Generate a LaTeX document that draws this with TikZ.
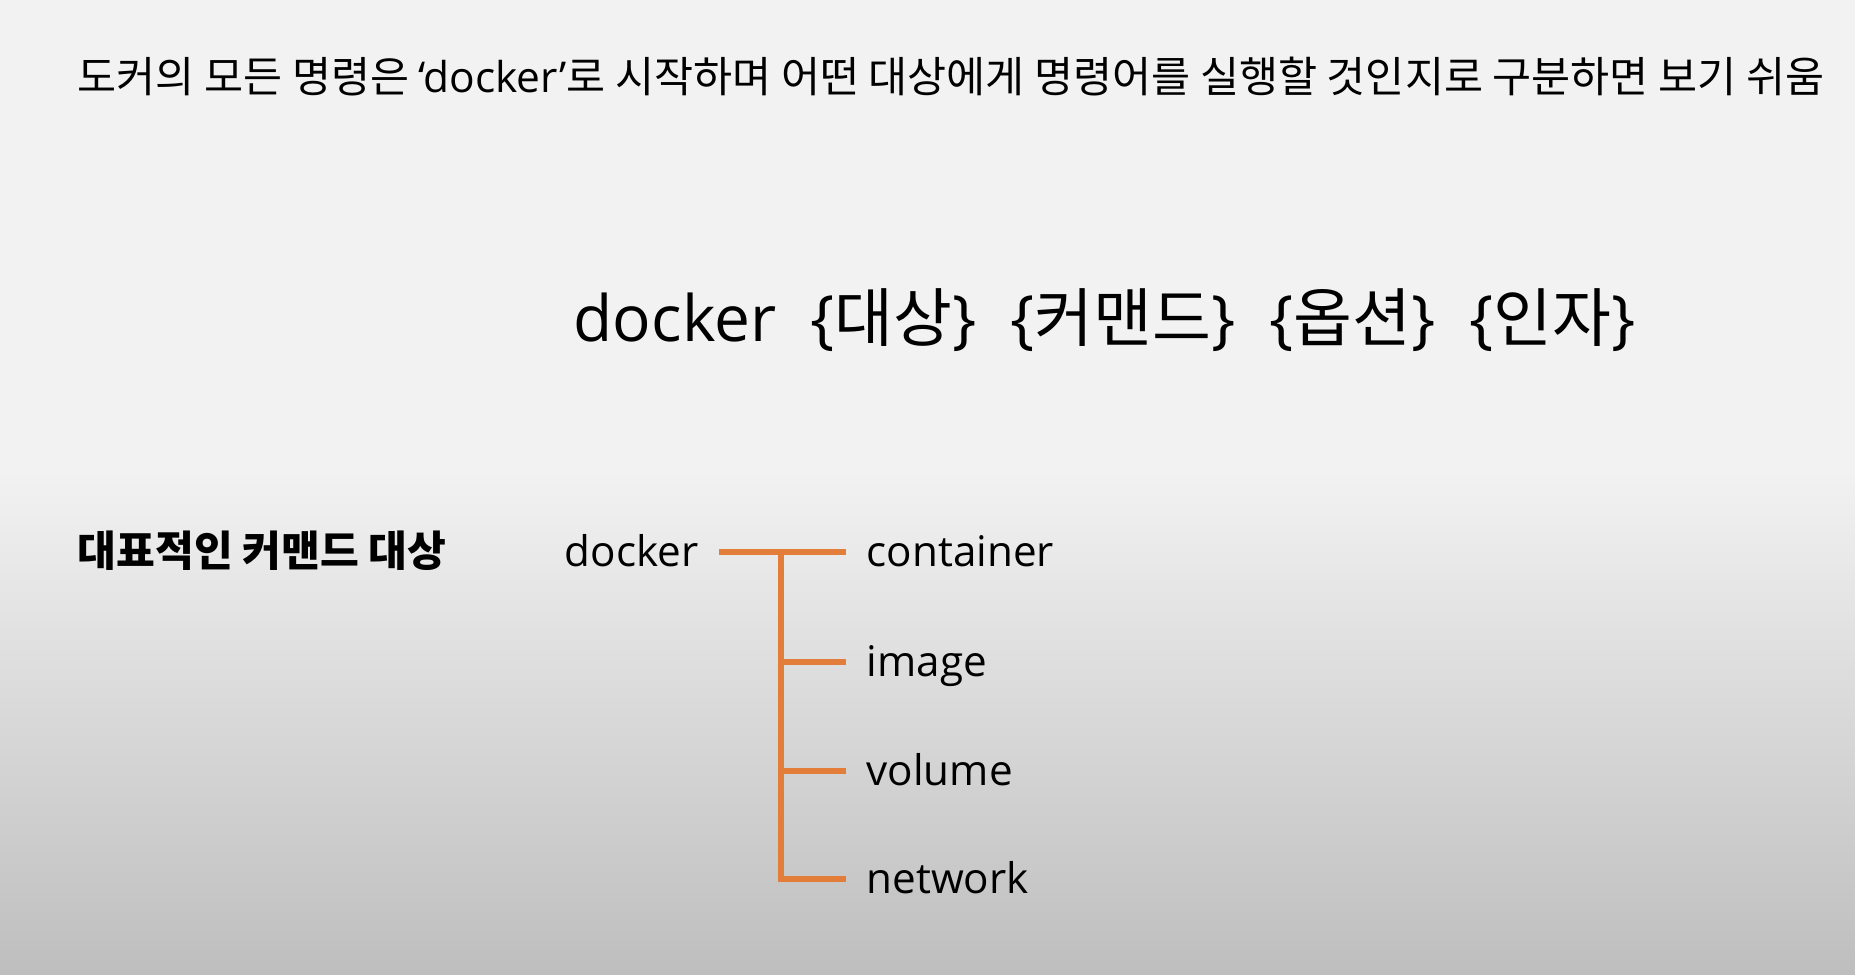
\documentclass[tikz,border=0pt]{standalone}
\usepackage{fontspec}
\setmainfont{Open Sans}
\newfontfamily\kr{Noto Sans CJK KR}
\definecolor{treeorange}{RGB}{226,126,58}
\definecolor{slidetop}{RGB}{242,242,242}
\definecolor{slidebottom}{RGB}{190,190,190}

\begin{document}
\begin{tikzpicture}[x=0.1mm,y=-0.1mm,
	item/.style={anchor=west, inner sep=0pt, font=\fontsize{12pt}{14pt}\selectfont, text height=3.2mm, text depth=0.4mm},
	tree/.style={draw=treeorange, line width=1.7pt}]

	% slide background
	\fill[slidetop] (0,0) rectangle (1855,974);
	\shade[top color=slidetop, bottom color=slidebottom] (0,470) rectangle (1855,974);
	\useasboundingbox (0,0) rectangle (1855,974);

	\node (title) [anchor=west, inner sep=0pt, font=\fontsize{12.08pt}{14pt}\selectfont] at (77,77) {\kr 도커의 모든 명령은 {\normalfont ‘docker’}로 시작하며 어떤 대상에게 명령어를 실행할 것인지로 구분하면 보기 쉬움};

	\node (syntax) [anchor=west, inner sep=0pt, font=\fontsize{18.2pt}{22pt}\selectfont] at (573,320) {docker\hspace{3.4mm}\{{\kr 대상}\}\hspace{3.4mm}\{{\kr 커맨드}\}\hspace{3.4mm}\{{\kr 옵션}\}\hspace{3.4mm}\{{\kr 인자}\}};

	\node (kind) [item, font=\kr\bfseries\fontsize{12pt}{14pt}\selectfont] at (77,552) {대표적인 커맨드 대상};
	\node (dk) [item] at (564,552) {docker};
	\node (cont) [item] at (866,552) {container};
	\node (img) [item] at (866,662) {image};
	\node (vol) [item] at (866,771) {volume};
	\node (net) [item] at (866,879) {network};
	\coordinate (J0) at (781,552);

	\draw [tree, shorten <=2mm, shorten >=2mm] (dk.east) to (cont.west);
	\draw [tree, shorten >=2mm] (J0) |- (net.west);
	\draw [tree, shorten >=2mm] (J0 |- img.west) to (img.west);
	\draw [tree, shorten >=2mm] (J0 |- vol.west) to (vol.west);

\end{tikzpicture}
\end{document}
